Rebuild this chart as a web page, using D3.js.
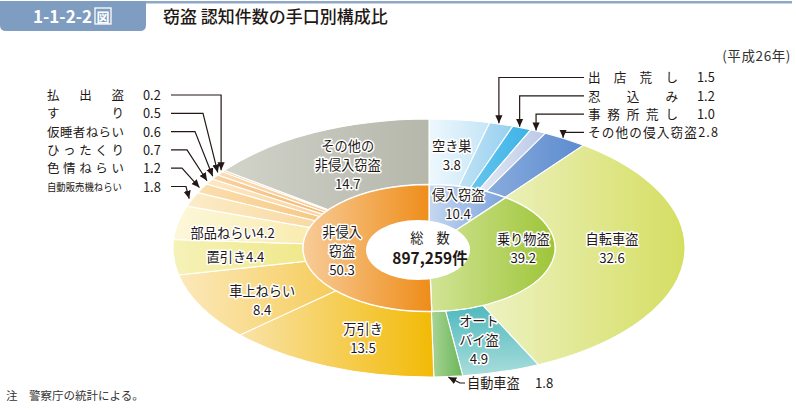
<!DOCTYPE html>
<html><head><meta charset="utf-8">
<script src="https://cdn.jsdelivr.net/npm/d3@7"></script>
<style>
body{margin:0;background:#fff}
svg{display:block}
text{font-family:"Noto Sans CJK JP","Noto Sans",sans-serif;fill:#231815}
</style>
</head><body><svg id="c" width="796" height="410"></svg>
<script>
// ---------- data ----------
const innerCats = ["侵入窃盗","乗り物盗","非侵入窃盗"];
const innerVals = [10.4, 39.2, 50.3];
const outerCats = ["空き巣","出店荒し","忍込み","事務所荒し","その他の侵入窃盗","自転車盗","オートバイ盗","自動車盗","万引き","車上ねらい","置引き","部品ねらい","自動販売機ねらい","色情ねらい","ひったくり","仮睡者ねらい","すり","払出盗","その他の非侵入窃盗"];
const outerVals = [3.8, 1.5, 1.2, 1.0, 2.8, 32.6, 4.9, 1.8, 13.5, 8.4, 4.4, 4.2, 1.8, 1.2, 0.7, 0.6, 0.5, 0.2, 14.7];
const totalLabel = "総　数";
const totalCount = "897,259件";
const yearLabel = "(平成26年)";
const figNo = "1-1-2-2";
const title = "窃盗 認知件数の手口別構成比";
const note = "注　警察庁の統計による。";

// ---------- styling ----------
const innerColors = [["#c6d8f1","#7aa2db"],["#d2e496","#9ec539"],["#f8cc98","#ee8c18"]];
const outerColors = [
  ["#eef8fd","#c4e5f7"],["#bfe2f5","#97d0f0"],["#66c6ee","#3cb2e6"],["#e2e8f5","#bac9e8"],["#8aacdd","#5b8bcf"],
  ["#edf2c2","#d5de62"],["#4fb9bd","#a9dddc"],["#a8d495","#6ab658"],
  ["#f9e3a8","#f2ba06"],["#fce9bb","#f5cc5a"],["#f6f2b8","#f0e88a"],["#fdf7da","#f9ecb0"],
  ["#fcecc8","#f9d9a2"],["#fbdfae","#f6c884"],["#fde8c4","#f9d49e"],["#f9d3a2","#f3b672"],["#fbdcb4","#f7c88e"],["#f6c68e","#f1ab62"],
  ["#d2d3c9","#b5b7ab"]
];
const verticalGrad = {"オートバイ盗": true};

const W = 796, H = 410;
const cx = 429, cy = 248, k = 0.504;
const rInnerIn = 40, rMid = 126, rOut = 256;

const svg = d3.select("#c");
const defs = svg.append("defs");

// header
svg.append("rect").attr("x",0).attr("y",1).attr("width",792).attr("height",2.5).attr("fill","#8fa7c8");
svg.append("path").attr("d","M0,1 H146 V25 Q146,31 140,31 H6 Q0,31 0,25 Z").attr("fill","#7f9cc1");
svg.append("text").attr("x",33).attr("y",23).attr("font-size",17).attr("font-weight","bold")
  .style("fill","#fff").text(figNo);
svg.append("rect").attr("x",95).attr("y",8).attr("width",16).attr("height",16)
  .attr("fill","none").attr("stroke","#fff").attr("stroke-width",1.3);
svg.append("text").attr("x",103).attr("y",21.5).attr("text-anchor","middle").attr("font-size",13).attr("font-weight","bold")
  .style("fill","#fff").text("図");
svg.append("text").attr("x",163).attr("y",23).attr("font-size",17).attr("font-weight","500").text(title);
svg.append("text").attr("x",791).attr("y",61).attr("text-anchor","end").attr("font-size",13.5)
  .attr("letter-spacing",0.6).style("fill","#333").text(yearLabel);
svg.append("text").attr("x",6).attr("y",400).attr("font-size",11.5).style("fill","#333").text(note);

// gradients
function grad(id, c, vertical){
  const g = defs.append("linearGradient").attr("id",id)
    .attr("x1",0).attr("y1",0).attr("x2",vertical?0:1).attr("y2",vertical?1:0);
  g.append("stop").attr("offset","0%").attr("stop-color",c[0]);
  g.append("stop").attr("offset","100%").attr("stop-color",c[1]);
}
innerColors.forEach((c,i)=>grad("gi"+i,c,false));
outerColors.forEach((c,i)=>grad("go"+i,c,!!verticalGrad[outerCats[i]]));

const pie = d3.pie().sort(null).value(d=>d).startAngle(0).endAngle(2*Math.PI);
const innerArcs = pie(innerVals);
const outerArcs = pie(outerVals);

const arcIn = d3.arc().innerRadius(rInnerIn).outerRadius(rMid);
const arcOut = d3.arc().innerRadius(rMid).outerRadius(rOut);

const gp = svg.append("g").attr("transform",`translate(${cx},${cy}) scale(1,${k})`);
gp.selectAll("path.o").data(outerArcs).join("path").attr("class","o")
  .attr("d",arcOut).attr("fill",(d,i)=>`url(#go${i})`)
  .attr("stroke","#fff").attr("stroke-width",1.1).attr("vector-effect","non-scaling-stroke");
gp.selectAll("path.i").data(innerArcs).join("path").attr("class","i")
  .attr("d",arcIn).attr("fill",(d,i)=>`url(#gi${i})`)
  .attr("stroke","#fff").attr("stroke-width",1.3).attr("vector-effect","non-scaling-stroke");

// center hole
svg.append("ellipse").attr("cx",cx-11).attr("cy",cy+2).attr("rx",52).attr("ry",30).attr("fill","#fff");

// polar → screen
function P(theta, r){ return [cx + r*Math.sin(theta), cy - r*Math.cos(theta)*k]; }
const mid = d => (d.startAngle + d.endAngle)/2;

function halo(sel){ return sel.attr("stroke","#fff").attr("stroke-width",3).attr("stroke-linejoin","round").attr("paint-order","stroke"); }

function block(x, y, lines, fs){
  const lh = 19;
  lines.forEach((s,j)=>{
    const t = svg.append("text").attr("text-anchor","middle").attr("font-size",fs)
      .attr("x",x).attr("y", y - (lines.length-1)*lh/2 + j*lh + fs*0.36).text(s);
    halo(t);
  });
}

const vfmt = d3.format(".1f");
const FS = 13.2;
// outer slice labels: [index, lines-builder, radius, dx, dy]
const outerLabelSpec = [
  [0, (n,v)=>[n, v], 191, 0, 3.5],
  [5, (n,v)=>[n, v], 191, -7, -9],
  [6, (n,v)=>["オート","バイ盗", v], 191, -4, 0],
  [8, (n,v)=>[n, v], 191, 9.5, 2.5],
  [9, (n,v)=>[n, v], 191, 3, 9],
  [10,(n,v)=>[n + v], 191, -3, 2],
  [11,(n,v)=>[n + v], 191, -9, 4],
  [18,(n,v)=>["その他の","非侵入窃盗", v], 191, 4, 3.5]
];
outerLabelSpec.forEach(([i,f,r,dx,dy])=>{
  const p = P(mid(outerArcs[i]), r);
  block(p[0]+dx, p[1]+dy, f(outerCats[i], vfmt(outerVals[i])), FS);
});
const innerLabelSpec = [
  [0, (n,v)=>[n, v], 95, -1.5, 2],
  [1, (n,v)=>[n, v], 95, 4, -14],
  [2, (n,v)=>["非侵入","窃盗", v], 95, 8, 2.5]
];
innerLabelSpec.forEach(([i,f,r,dx,dy])=>{
  const p = P(mid(innerArcs[i]), r);
  block(p[0]+dx, p[1]+dy, f(innerCats[i], vfmt(innerVals[i])), FS);
});

// center total
svg.append("text").attr("x",cx+1).attr("y",cy-10+4.5).attr("text-anchor","middle").attr("font-size",13.2).text(totalLabel);
svg.append("text").attr("x",cx+1).attr("y",cy+10+5.5).attr("text-anchor","middle").attr("font-size",15.5).attr("font-weight","bold").text(totalCount);

// arrow marker
defs.append("marker").attr("id","arr").attr("viewBox","0 0 10 10").attr("refX",10).attr("refY",5)
  .attr("markerWidth",8).attr("markerHeight",8).attr("markerUnits","userSpaceOnUse").attr("orient","auto")
  .append("path").attr("d","M0,0.5 L10,5 L0,9.5 Z").attr("fill","#231815");

const lineG = svg.append("g").attr("fill","none").attr("stroke","#231815").attr("stroke-width",1.2);
const tipR = 259;

// left callouts
const leftSpec = [ // index, label, textLength, fontsize, elbowX
  [17, "払出盗", 77, 12.5, null],
  [16, "すり", 77, 12.5, 203],
  [15, "仮睡者ねらい", 77, 12.5, 195],
  [14, "ひったくり", 77, 12.5, 187],
  [13, "色情ねらい", 77, 12.5, 182],
  [12, "自動販売機ねらい", 75, 10.5, 186]
];
const leftRowY = [95, 113.3, 131.6, 149.9, 168.2, 186.5];
leftSpec.forEach(([i, lab, tl, fs, ex], j)=>{
  const y = leftRowY[j];
  svg.append("text").attr("x",47).attr("y",y+fs*0.36+0.5).attr("font-size",fs)
    .attr("textLength",tl).attr("lengthAdjust", fs<12 ? "spacingAndGlyphs" : "spacing").text(lab);
  svg.append("text").attr("x",143).attr("y",y+5).attr("font-size",12.8).text(vfmt(outerVals[i]));
  const tip = P(mid(outerArcs[i]), tipR);
  const pts = ex === null ? [[171,y],[tip[0],y],tip] : [[171,y],[ex,y],tip];
  lineG.append("path").attr("d", d3.line()(pts)).attr("marker-end","url(#arr)");
});

// right-top callouts
const rightSpec = [ // index, label, justified length
  [1, "出店荒し", 90],
  [2, "忍込み", 90],
  [3, "事務所荒し", 90],
  [4, "その他の侵入窃盗", null]
];
const rightRowY = [77.5, 95.8, 114.1, 132.4];
rightSpec.forEach(([i, lab, tl], j)=>{
  const y = rightRowY[j];
  const t = svg.append("text").attr("x",588).attr("y",y+4.8).attr("font-size",12.6);
  if(tl){
    t.attr("textLength",tl).attr("lengthAdjust","spacing").text(lab);
    svg.append("text").attr("x",697).attr("y",y+4.8).attr("font-size",12.8).text(vfmt(outerVals[i]));
  } else {
    t.attr("textLength",130).attr("lengthAdjust","spacing").text(lab + vfmt(outerVals[i]));
  }
  const tip = P(mid(outerArcs[i]), tipR - 1);
  lineG.append("path").attr("d", d3.line()([[584,y],[tip[0]-3,y],[tip[0]-3,tip[1]]])).attr("marker-end","url(#arr)");
});

// bottom callout (自動車盗)
{
  const i = 7;
  const tip = P(mid(outerArcs[i]), tipR - 2);
  const y = 383;
  svg.append("text").attr("x",467).attr("y",y+5).attr("font-size",13.2).text(outerCats[i]);
  svg.append("text").attr("x",535).attr("y",y+5).attr("font-size",13.2).text(vfmt(outerVals[i]));
  lineG.append("path").attr("d", d3.line()([[465,y],[460,y],tip])).attr("marker-end","url(#arr)");
}
</script>
</body></html>
